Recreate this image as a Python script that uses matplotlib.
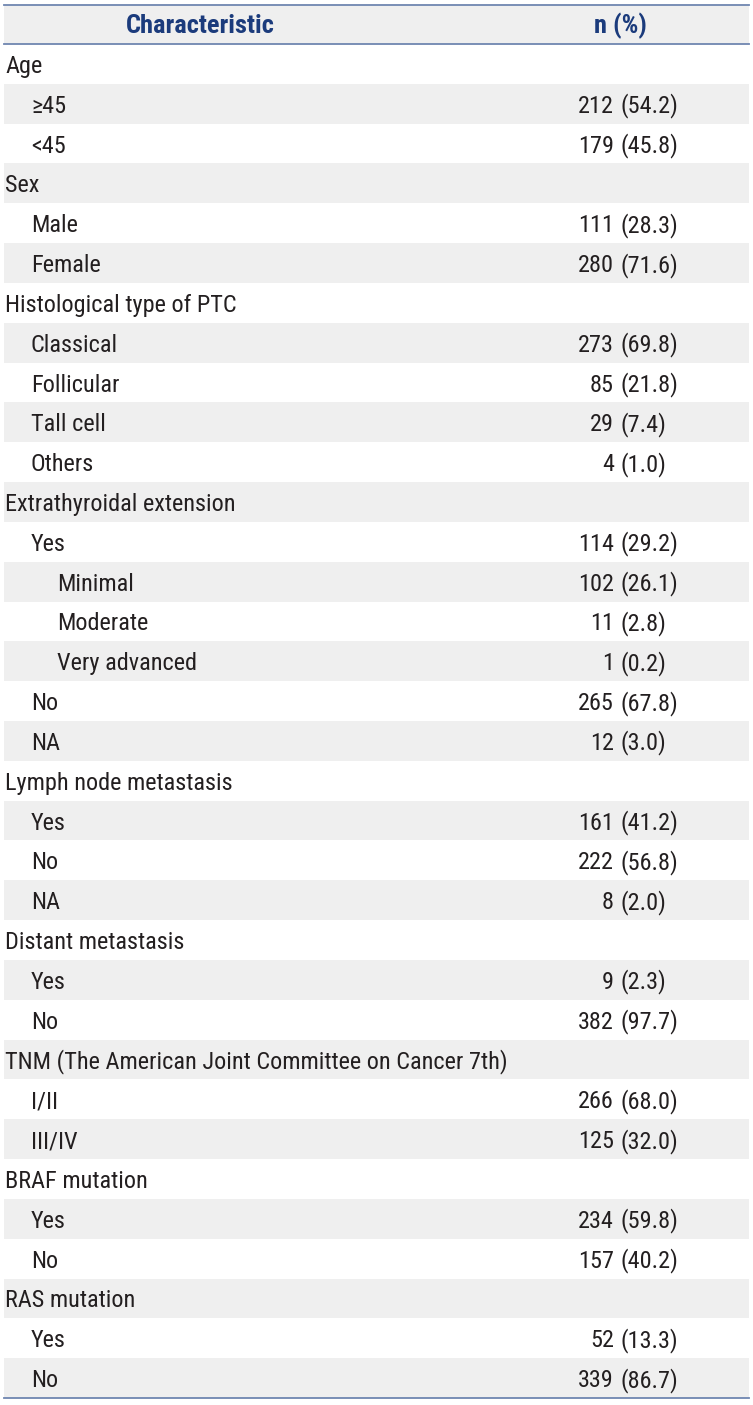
import matplotlib
matplotlib.use("Agg")
import matplotlib.pyplot as plt
from matplotlib import font_manager

# table content: one entry per row
labels = ["Age", "\u226545", "<45", "Sex", "Male", "Female",
          "Histological type of PTC", "Classical", "Follicular", "Tall cell", "Others",
          "Extrathyroidal extension", "Yes", "Minimal", "Moderate", "Very advanced", "No", "NA",
          "Lymph node metastasis", "Yes", "No", "NA",
          "Distant metastasis", "Yes", "No",
          "TNM (The American Joint Committee on Cancer 7th)", "I/II", "III/IV",
          "BRAF mutation", "Yes", "No",
          "RAS mutation", "Yes", "No"]
levels = [0, 1, 1, 0, 1, 1,
          0, 1, 1, 1, 1,
          0, 1, 2, 2, 2, 1, 1,
          0, 1, 1, 1,
          0, 1, 1,
          0, 1, 1,
          0, 1, 1,
          0, 1, 1]
counts = [None, 212, 179, None, 111, 280,
          None, 273, 85, 29, 4,
          None, 114, 102, 11, 1, 265, 12,
          None, 161, 222, 8,
          None, 9, 382,
          None, 266, 125,
          None, 234, 157,
          None, 52, 339]
percents = [None, "54.2", "45.8", None, "28.3", "71.6",
            None, "69.8", "21.8", "7.4", "1.0",
            None, "29.2", "26.1", "2.8", "0.2", "67.8", "3.0",
            None, "41.2", "56.8", "2.0",
            None, "2.3", "97.7",
            None, "68.0", "32.0",
            None, "59.8", "40.2",
            None, "13.3", "86.7"]
headers = ["Characteristic", "n (%)"]

names = {f.name for f in font_manager.fontManager.ttflist}
prefs = ["Roboto Condensed", "Liberation Sans Narrow", "Archivo Narrow",
         "Barlow Semi Condensed", "Liberation Sans"]
plt.rcParams["font.family"] = [n for n in prefs if n in names] + ["DejaVu Sans"]

W, H = 753, 1405
fig = plt.figure(figsize=(W / 100, H / 100), dpi=100)
ax = fig.add_axes([0, 0, 1, 1])
ax.set_xlim(0, W)
ax.set_ylim(H, 0)
ax.axis("off")

left, right = 4, 749
head_top, head_bot = 5, 44
row_h = (1398 - head_bot) / len(labels)
shade = "#efefef"
line_col = "#6f86b0"
text_col = "#231f20"
head_col = "#1b3b7c"
fs = 17.5

# header
ax.add_patch(plt.Rectangle((left, head_top), right - left, head_bot - head_top,
                           facecolor=shade, edgecolor="none"))
ax.plot([left, right], [head_top, head_top], color=line_col, lw=1.3)
ax.plot([left, right], [head_bot, head_bot], color=line_col, lw=1.3)
ax.text(200, 33, headers[0], ha="center", va="baseline",
        fontsize=19, fontweight="bold", color=head_col)
ax.text(620, 33, headers[1], ha="center", va="baseline",
        fontsize=19, fontweight="bold", color=head_col)

for i, (lab, lev, n, p) in enumerate(zip(labels, levels, counts, percents)):
    y0 = head_bot + i * row_h
    yb = y0 + row_h / 2 + 9
    if i % 2 == 1:
        ax.add_patch(plt.Rectangle((left, y0), right - left, row_h,
                                   facecolor=shade, edgecolor="none"))
    ax.text(5 + 26 * lev, yb, lab, ha="left", va="baseline",
            fontsize=fs, color=text_col)
    if n is not None:
        ax.text(614, yb, str(n), ha="right", va="baseline",
                fontsize=fs, color=text_col)
        ax.text(621, yb, "(" + p + ")", ha="left", va="baseline",
                fontsize=fs, color=text_col)

ax.plot([left, right], [1398, 1398], color=line_col, lw=1.3)

fig.savefig("out.png", dpi=100)
